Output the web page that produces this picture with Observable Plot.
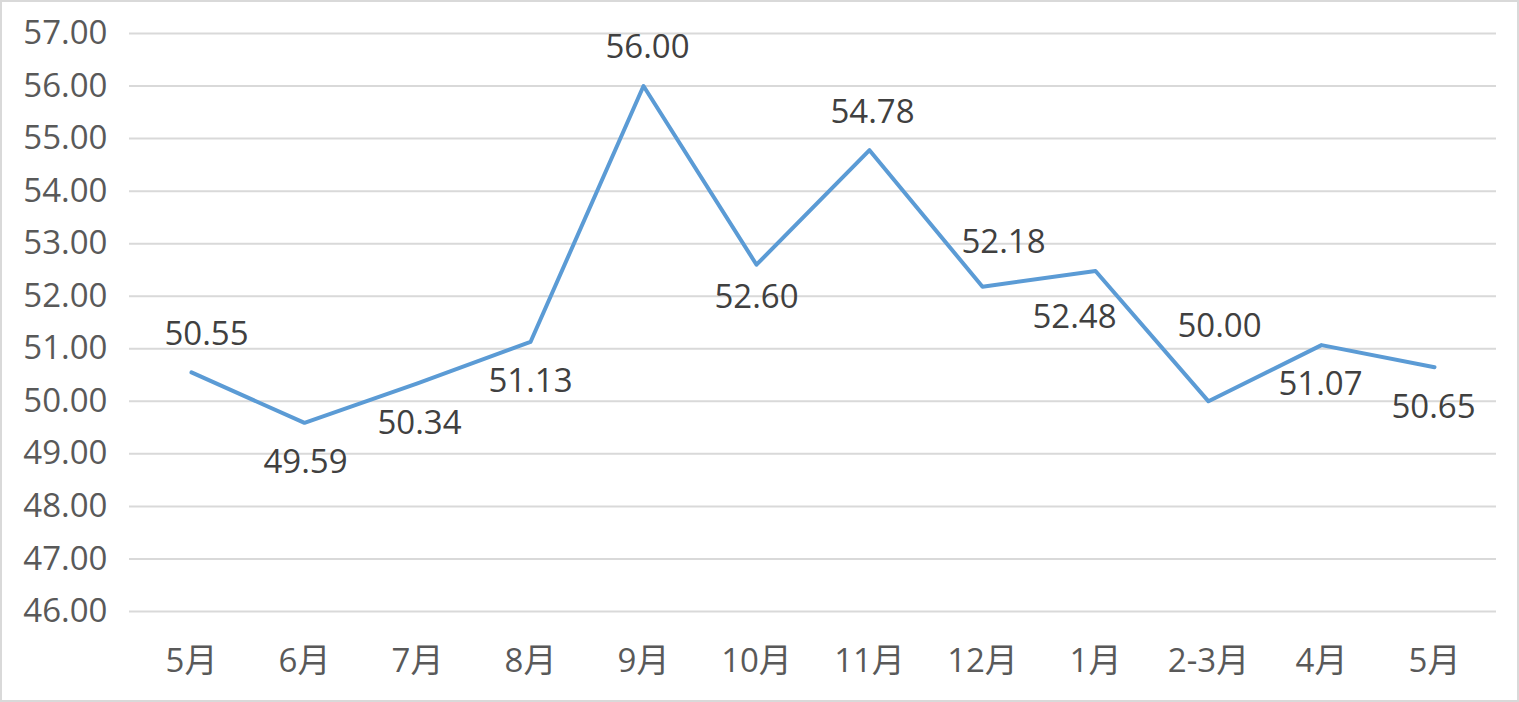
<!DOCTYPE html>
<html>
<head>
<meta charset="utf-8">
<script src="https://cdn.jsdelivr.net/npm/d3@7"></script>
<script src="https://cdn.jsdelivr.net/npm/@observablehq/plot@0.6"></script>
<style>
  html, body { margin: 0; padding: 0; background: #fff; }
  #chart { width: 1519px; height: 702px; position: relative; }
  #chart svg { display: block; }
  .frame { position: absolute; left: 0; top: 0; width: 1515px; height: 698px; border: 2px solid #d9d9d9; pointer-events: none; }
</style>
</head>
<body>
<div id="chart"><div class="frame"></div></div>
<script>
const months = ["5月", "6月", "7月", "8月", "9月", "10月", "11月", "12月", "1月", "2-3月", "4月", "5月"];
const values = [50.55, 49.59, 50.34, 51.13, 56.00, 52.60, 54.78, 52.18, 52.48, 50.00, 51.07, 50.65];
const yTicks = [46, 47, 48, 49, 50, 51, 52, 53, 54, 55, 56, 57];

// label placement (Excel auto placement as seen in the picture)
const labelDx = [15, 1, 2, 0, 4, 0, 3, 21, -21, 11, -1, -1];
const labelDy = [-38, 40, 40, 39, -39, 33, -38, -44, 46, -75, 39, 40];

const data = months.map((m, i) => ({i, month: m, value: values[i]}));

const font = "'Open Sans', 'Noto Sans CJK SC', sans-serif";

const plot = Plot.plot({
  width: 1519,
  height: 702,
  marginLeft: 129,
  marginRight: 23,
  marginTop: 33,
  marginBottom: 91,
  style: {fontFamily: font, background: "transparent"},
  x: {type: "point", domain: d3.range(months.length), padding: 0.5, label: null},
  y: {domain: [46, 57], label: null},
  marks: [
    Plot.gridY(yTicks, {stroke: "#d9d9d9", strokeOpacity: 1, strokeWidth: 2}),
    Plot.axisY(yTicks, {tickSize: 0, tickPadding: 22, fontSize: 33, fill: "#595959", tickFormat: d => d.toFixed(2), label: null}),
    Plot.axisX(d3.range(months.length), {tickSize: 0, tickPadding: 37, fontSize: 33, fill: "#595959", tickFormat: i => months[i], label: null}),
    Plot.line(data, {x: "i", y: "value", stroke: "#5b9bd5", strokeWidth: 4, strokeLinejoin: "round"}),
    ...data.map((d, k) => Plot.text([d], {
      x: "i", y: "value",
      text: r => r.value.toFixed(2),
      dx: labelDx[k], dy: labelDy[k],
      fontSize: 33, fill: "#404040"
    }))
  ]
});
document.getElementById("chart").prepend(plot);
</script>
</body>
</html>
